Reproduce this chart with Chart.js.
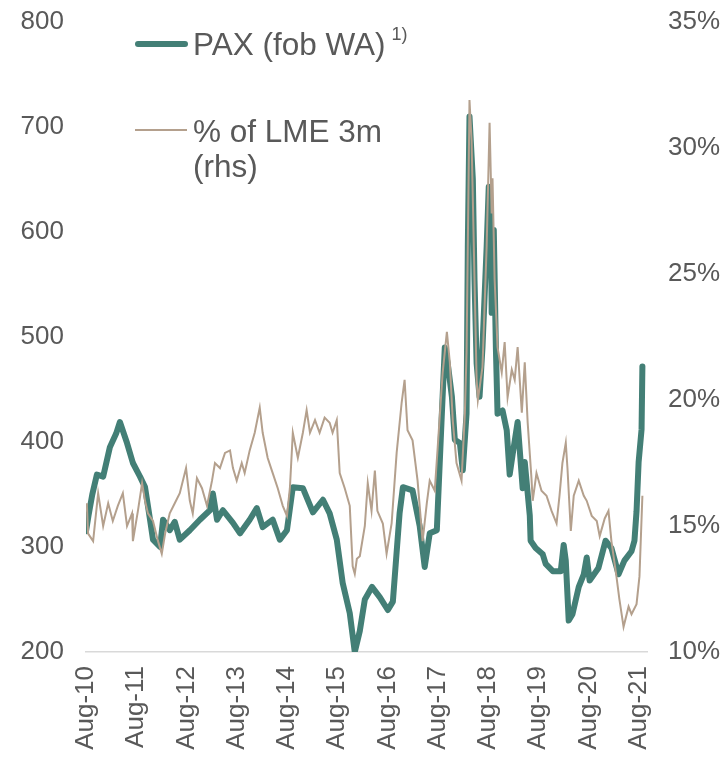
<!DOCTYPE html>
<html>
<head>
<meta charset="utf-8">
<script src="https://cdn.jsdelivr.net/npm/chart.js@4"></script>
<style>
body { margin: 0; background: #fff; }
#wrap { position: relative; width: 725px; height: 757px; }
canvas { display: block; }
.lg { position: absolute; font-family: "Liberation Sans", Arial, sans-serif; color: #595959; font-size: 31.5px; line-height: 35px; white-space: nowrap; }
.sw { position: absolute; }
</style>
</head>
<body>
<div id="wrap">
  <canvas id="chart" width="725" height="757"></canvas>
  <div class="sw" style="left:135px;top:41px;width:53px;height:6px;border-radius:3px;background:#437f76"></div>
  <div class="lg" style="left:193px;top:27px">PAX (fob WA)<sup style="font-size:18px;line-height:0;vertical-align:15px;margin-left:6px">1)</sup></div>
  <div class="sw" style="left:135px;top:129px;width:52px;height:2px;background:#b4a08d"></div>
  <div class="lg" style="left:193px;top:114px">% of LME 3m<br>(rhs)</div>
</div>
<script>
// x = months since Aug-10
const tickMonths = [0, 12, 24, 36, 48, 60, 72, 84, 96, 108, 120, 132];
const tickLabels = ['Aug-10', 'Aug-11', 'Aug-12', 'Aug-13', 'Aug-14', 'Aug-15', 'Aug-16', 'Aug-17', 'Aug-18', 'Aug-19', 'Aug-20', 'Aug-21'];

// PAX (fob WA), lhs
const paxMonths = [0, 0.6, 1.5, 2.6, 4.1, 5.7, 7.2, 8.1, 9.8, 11.2, 12.9, 14.1, 15.3, 16.0, 17.7, 18.4, 20.0, 21.2, 22.4, 24.8,
  27.2, 29.6, 30.3, 31.3, 32.7, 35.1, 36.8, 39.1, 40.8, 42.2, 44.6, 46.3, 48.0, 49.4, 51.8, 54.2, 56.6, 58.2, 59.9, 61.3,
  63.0, 64.2, 65.4, 66.6, 68.3, 70.2, 72.1, 73.3, 74.9, 75.7, 78.0, 79.7, 80.9, 82.1, 83.8, 85.0, 85.7, 86.4, 87.4, 88.1,
  89.3, 90.0, 90.9, 91.2, 91.6, 92.4, 92.8, 93.3, 94.0, 94.7, 95.7, 96.2, 96.7, 96.9, 97.4, 97.9, 98.3, 99.5, 100.5, 101.2,
  101.9, 103.1, 104.3, 104.8, 106.0, 106.2, 107.4, 109.1, 109.8, 111.5, 113.4, 114.1, 114.6, 115.3, 116.2, 117.7, 118.9, 119.6, 120.3, 122.4,
  124.1, 125.5, 127.2, 128.6, 130.3, 131.0, 131.5, 132.0, 132.7, 132.9];
const paxValues = [315, 330, 350, 369, 367, 395, 408, 419, 399, 380, 367, 357, 326, 307, 300, 326, 316, 324, 307, 316,
  326, 335, 351, 326, 335, 323, 313, 326, 337, 319, 326, 307, 316, 357, 356, 333, 345, 332, 307, 266,
  237, 200, 220, 250, 262, 252, 240, 248, 332, 357, 354, 320, 281, 313, 316, 427, 490, 475, 443, 402,
  399, 373, 427, 586, 710, 650, 554, 475, 443, 490, 586, 643, 618, 523, 602, 490, 427, 430, 411, 369,
  388, 419, 356, 381, 330, 306, 299, 293, 284, 277, 277, 302, 287, 230, 236, 262, 274, 290, 268, 280,
  306, 299, 274, 287, 296, 306, 334, 381, 412, 472];

// % of LME 3m, rhs
const lmeMonths = [0.2, 0.5, 1.7, 2.9, 4.1, 5.3, 6.4, 7.6, 8.8, 9.8, 11.0, 11.2, 12.4, 13.4, 14.1, 14.8, 16.0, 17.2, 18.1, 18.9,
  20.0, 21.2, 22.4, 23.9, 24.8, 25.5, 26.5, 27.7, 28.9, 30.1, 30.8, 32.0, 33.2, 34.4, 35.1, 36.0, 37.2, 37.9, 39.1, 40.3,
  41.5, 42.2, 43.4, 44.6, 45.8, 47.0, 48.0, 48.7, 49.4, 50.6, 51.8, 52.7, 53.5, 54.7, 55.8, 57.0, 58.2, 58.9, 59.9, 60.6,
  61.8, 63.0, 63.7, 64.2, 64.7, 65.4, 66.6, 67.3, 68.2, 69.0, 69.6, 70.9, 71.8, 73.0, 74.2, 75.4, 76.1, 76.8, 78.0, 79.2,
  80.4, 81.4, 82.1, 83.3, 84.0, 85.2, 86.2, 86.9, 87.6, 88.5, 89.7, 90.5, 90.9, 91.6, 92.1, 92.8, 93.3, 93.6, 94.7, 95.7,
  96.4, 96.9, 97.1, 97.6, 98.3, 99.3, 100.0, 100.7, 101.7, 102.4, 103.1, 104.1, 104.8, 105.5, 106.4, 106.7, 107.6, 108.8, 110.0, 111.2,
  112.4, 113.1, 113.8, 114.6, 115.0, 115.8, 116.5, 117.7, 118.9, 119.6, 120.8, 122.0, 122.7, 123.9, 124.8, 125.5, 126.7, 127.4, 128.4, 129.6,
  130.3, 131.5, 132.2, 132.9];
const lmePct = [15.9, 14.7, 14.4, 16.3, 15.0, 15.9, 15.2, 15.8, 16.3, 15.0, 15.5, 14.4, 15.6, 16.7, 16.0, 15.5, 15.2, 14.4, 13.9, 14.7,
  15.5, 15.9, 16.3, 17.3, 16.0, 15.5, 16.9, 16.5, 15.8, 16.8, 17.5, 17.3, 17.9, 18.0, 17.3, 16.8, 17.5, 17.1, 18.0, 18.7,
  19.7, 18.7, 17.7, 17.1, 16.5, 15.8, 15.4, 16.5, 18.7, 17.7, 18.7, 19.6, 18.7, 19.2, 18.7, 19.3, 19.1, 18.7, 19.2, 17.1,
  16.5, 15.8, 13.4, 13.1, 13.7, 13.8, 15.0, 16.7, 15.6, 17.2, 15.6, 15.1, 13.9, 15.1, 17.9, 19.9, 20.8, 18.8, 18.4, 16.8,
  14.4, 15.9, 16.8, 16.4, 18.1, 21.1, 22.7, 21.5, 19.2, 17.5, 16.8, 19.5, 21.9, 31.9, 30.3, 24.8, 20.8, 20.0, 21.3, 26.1,
  31.0, 27.4, 28.8, 24.8, 22.1, 21.1, 22.3, 20.1, 21.2, 20.8, 22.1, 19.5, 21.5, 19.1, 16.9, 16.0, 17.1, 16.4, 16.2, 15.6,
  15.1, 16.2, 17.5, 18.3, 17.3, 14.8, 16.2, 16.8, 16.2, 16.0, 15.4, 15.2, 14.6, 15.3, 15.6, 14.4, 13.0, 12.1, 11.0, 11.8,
  11.5, 11.9, 13.0, 16.2];

const tickFont = { family: '"Liberation Sans", Arial, sans-serif', size: 26 };
const tickColor = '#595959';

// fixed widths, and drop the extra top/bottom room Chart.js adds for the end labels
function fitY(width) {
    return s => { s.width = width; s.paddingTop = 0; s.paddingBottom = 0; };
}

new Chart(document.getElementById('chart').getContext('2d'), {
    type: 'line',
    data: {
        datasets: [
            {
                label: '% of LME 3m (rhs)',
                data: lmeMonths.map((m, i) => ({ x: m, y: lmePct[i] })),
                yAxisID: 'y1',
                borderColor: '#b4a08d',
                borderWidth: 2,
                pointRadius: 0,
                tension: 0,
                order: 0
            },
            {
                label: 'PAX (fob WA)',
                data: paxMonths.map((m, i) => ({ x: m, y: paxValues[i] })),
                yAxisID: 'y',
                borderColor: '#437f76',
                borderWidth: 6,
                borderJoinStyle: 'round',
                borderCapStyle: 'round',
                pointRadius: 0,
                tension: 0,
                order: 1
            }
        ]
    },
    options: {
        responsive: false,
        animation: false,
        devicePixelRatio: 1,
        layout: { padding: { top: 22 } },
        plugins: { legend: { display: false }, tooltip: { enabled: false } },
        scales: {
            x: {
                type: 'linear',
                min: 0,
                max: 134,
                afterBuildTicks: s => { s.ticks = tickMonths.map(v => ({ value: v })); },
                afterFit: s => { s.height = 105; },
                grid: { display: false, drawTicks: false },
                border: { display: true, color: '#d9d9d9', width: 1.5 },
                ticks: {
                    autoSkip: false,
                    minRotation: 90,
                    maxRotation: 90,
                    padding: 14,
                    font: tickFont,
                    color: tickColor,
                    callback: v => tickLabels[tickMonths.indexOf(v)]
                }
            },
            y: {
                position: 'left',
                min: 200,
                max: 800,
                afterFit: fitY(86),
                grid: { display: false, drawTicks: false },
                border: { display: false },
                ticks: { stepSize: 100, padding: 22, font: tickFont, color: tickColor }
            },
            y1: {
                position: 'right',
                min: 10,
                max: 35,
                afterFit: fitY(78),
                grid: { display: false, drawTicks: false },
                border: { display: false },
                ticks: { stepSize: 5, padding: 21, font: tickFont, color: tickColor, callback: v => v + '%' }
            }
        }
    }
});
</script>
</body>
</html>
